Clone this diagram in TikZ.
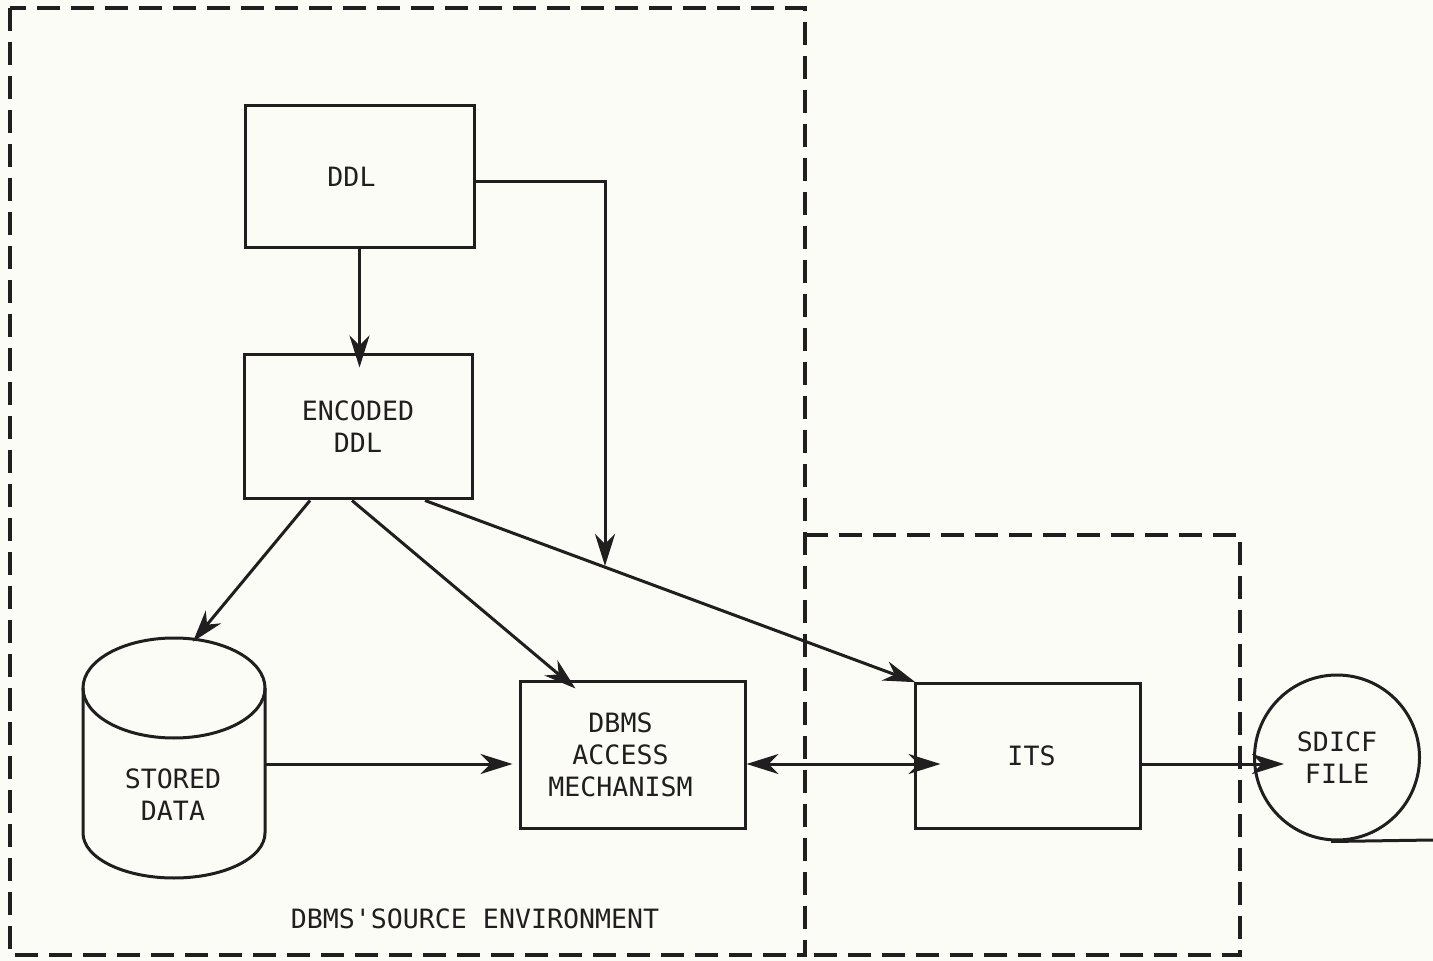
\documentclass[tikz,border=0pt]{standalone}
\usepackage{fontspec}
\usetikzlibrary{arrows.meta,calc}
\newfontfamily\diagfont{DejaVu Sans Mono}
\definecolor{ink}{RGB}{32,30,30}
\definecolor{paper}{RGB}{252,252,246}
\tikzset{
  txt/.style={inner sep=0pt, align=center, text=ink,
    font=\diagfont\fontsize{13.3}{16}\selectfont},
  box/.style={txt, draw=ink, line width=1.5pt},
  conn/.style={draw=ink, line width=1.5pt},
  arr/.style={conn, -{Stealth[length=16pt,width=10pt,inset=5pt]}},
  biarr/.style={conn, {Stealth[length=16pt,width=10pt,inset=5pt]}-{Stealth[length=16pt,width=10pt,inset=5pt]}},
  frame/.style={draw=ink, line width=1.8pt, dash pattern=on 11.5pt off 5.5pt},
}
\begin{document}
\begin{tikzpicture}[x=0.5pt,y=-0.5pt]
\fill[paper] (0,0) rectangle (1433,961);
\useasboundingbox (0,0) rectangle (1433,961);

% environment frames
\draw[frame] (10,8) rectangle (805,955);
\draw[frame] (805,535) -- (1240,535) -- (1240,955) -- (805,955);

% boxes
\node[box, minimum width=114.5pt, minimum height=71pt] (ddl) at (359.5,177) {DDL\kern8pt};
\node[box, minimum width=114pt, minimum height=72pt] (enc) at (358,427) {ENCODED\\DDL};
\node[box, minimum width=112.5pt, minimum height=73.5pt] (dbms) at (632.5,754.5) {DBMS\kern12pt\\ACCESS\kern12pt\\MECHANISM\kern12pt};
\node[box, minimum width=112.5pt, minimum height=72.5pt] (its) at (1027.5,755.5) {\kern4pt ITS};
\node[box, circle, minimum size=82.5pt] (sdicf) at (1337,757.5) {SDICF\\FILE};

% stored data cylinder
\node[inner sep=0pt, minimum width=91pt, minimum height=72.5pt] (cyl) at (174,760.5) {};
\draw[conn] (174,688) ellipse [x radius=91, y radius=50];
\draw[conn] (83,688) -- (83,833) arc [start angle=180, end angle=0, x radius=91, y radius=45] -- (265,688);
\node[txt] (stored) at (173,795) {STORED\\DATA};

% label
\node[txt] (envlabel) at (475,919) {DBMS\makebox[0pt][l]{'} SOURCE ENVIRONMENT};

% helper coordinates
\coordinate (row) at (0,764);
\coordinate (j) at (605,566);
\coordinate (tapeend) at (1433,840);

% connectors
\draw[arr, shorten >=-7pt] (ddl.south) -- (ddl.south |- enc.north);
\draw[arr] ($(ddl.east)+(0,5)$) -| (j);
\draw[arr, shorten >=-1pt] ($(enc.south)+(67,0)$) -- (its.north west);
\draw[arr] ($(enc.south)+(-48,0)$) -- ($(cyl.north)+(19,-46)$);
\draw[arr] ($(enc.south)+(-6,0)$) -- ($(dbms.north west)+(57,9)$);
\draw[arr, shorten >=3pt] (cyl.east |- row) -- (dbms.west |- row);
\draw[biarr, shorten >=-13.5pt] (dbms.east |- row) -- (its.west |- row);
\draw[arr, shorten >=-15.5pt] (its.east |- row) -- (sdicf.west |- row);
\draw[conn] ($(sdicf.south)+(-6,0)$) -- (tapeend);
\end{tikzpicture}
\end{document}
